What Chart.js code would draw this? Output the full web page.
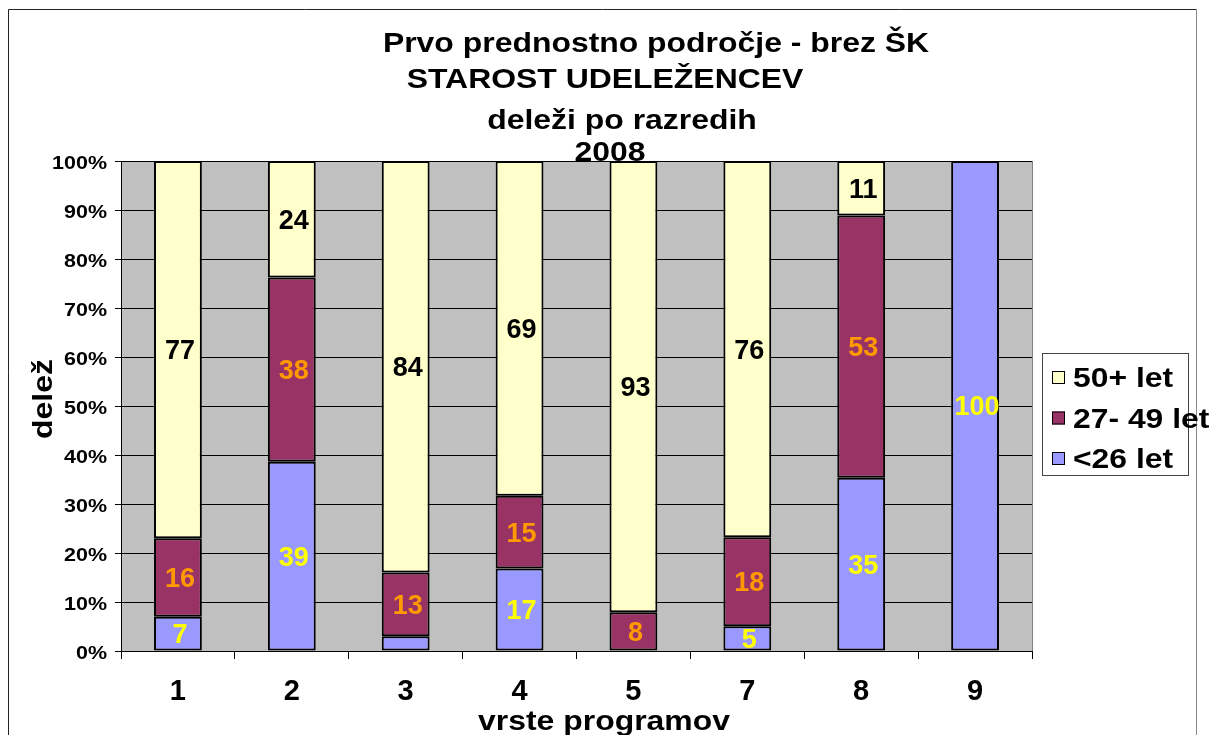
<!DOCTYPE html>
<html>
<head>
<meta charset="utf-8">
<script src="https://cdn.jsdelivr.net/npm/chart.js@4/dist/chart.umd.min.js"></script>
<style>
  body { margin: 0; background: #fff; }
  canvas { display: block; }
</style>
</head>
<body>
<canvas id="ageChart" width="1213" height="735"></canvas>
<script>
// Data (values shown as labels, in %)
const categories = ['1', '2', '3', '4', '5', '7', '8', '9'];
const under26 = [7, 39, 3, 17, 0, 5, 35, 100];
const age27to49 = [16, 38, 13, 15, 8, 18, 53, 0];
const over50 = [77, 24, 84, 69, 93, 76, 11, 0];
const seriesNames = ['<26 let', '27- 49 let', '50+ let'];
const titleLines = ['Prvo prednostno področje - brez ŠK', 'STAROST UDELEŽENCEV', 'deleži po razredih', '2008'];

const FONT = '"Liberation Sans", Arial, sans-serif';
const fillColors = ['#9999FF', '#993366', '#FFFFCC'];
const labelColors = ['#FFFF00', '#FF9900', '#000000'];
const STRETCH = 1.14; // the original text is drawn a bit wider than plain Arial

// 100% stacking: turn each column into shares of its total
const raw = [under26, age27to49, over50];
const totals = categories.map((_, i) => raw.reduce((s, arr) => s + arr[i], 0));
const share = arr => arr.map((v, i) => v / totals[i] * 100);

function wideText(ctx, text, x, y, sx, rot) {
    ctx.save();
    ctx.translate(x, y);
    if (rot) ctx.rotate(rot);
    ctx.scale(sx, 1);
    ctx.fillText(text, 0, 0);
    ctx.restore();
}

const chartDecor = {
    id: 'chartDecor',
    beforeDraw(chart) {
        const { ctx, chartArea: a } = chart;
        ctx.save();
        ctx.fillStyle = '#C0C0C0';
        ctx.fillRect(a.left, a.top, a.right - a.left, a.bottom - a.top);
        ctx.strokeStyle = '#808080';
        ctx.lineWidth = 1;
        ctx.beginPath();
        ctx.moveTo(a.right + 0.5, a.top);
        ctx.lineTo(a.right + 0.5, a.bottom);
        ctx.stroke();
        ctx.restore();
    },
    afterDatasetsDraw(chart) {
        const ctx = chart.ctx;
        ctx.save();
        ctx.font = 'bold 27px ' + FONT;
        ctx.textAlign = 'center';
        ctx.textBaseline = 'middle';
        chart.data.datasets.forEach((ds, di) => {
            const meta = chart.getDatasetMeta(di);
            meta.data.forEach((bar, i) => {
                const v = raw[di][i];
                if (v < 4) return; // too thin to carry a label
                ctx.fillStyle = labelColors[di];
                ctx.fillText(String(v), bar.x + 2, (bar.y + bar.base) / 2 + 2);
            });
        });
        ctx.restore();
    },
    afterDraw(chart) {
        const ctx = chart.ctx;
        const yScale = chart.scales.y;
        ctx.save();
        // outer frame
        ctx.strokeStyle = '#222';
        ctx.lineWidth = 1;
        ctx.beginPath();
        ctx.moveTo(8.5, 740);
        ctx.lineTo(8.5, 9.5);
        ctx.lineTo(1196.5, 9.5);
        ctx.stroke();
        ctx.strokeStyle = '#888';
        ctx.beginPath();
        ctx.moveTo(1196.5, 9.5);
        ctx.lineTo(1196.5, 740);
        ctx.stroke();

        // y tick labels
        ctx.fillStyle = '#000';
        ctx.textAlign = 'right';
        ctx.textBaseline = 'alphabetic';
        ctx.font = 'bold 18.5px ' + FONT;
        yScale.ticks.forEach(t => {
            wideText(ctx, t.value + '%', 107, yScale.getPixelForValue(t.value) + 8, 1.16);
        });

        // title
        ctx.textAlign = 'center';
        ctx.font = 'bold 28px ' + FONT;
        const titlePos = [[656, 52], [605, 88], [622, 129], [610, 161]];
        titleLines.forEach((t, i) => wideText(ctx, t, titlePos[i][0], titlePos[i][1], STRETCH));

        // axis titles
        wideText(ctx, 'vrste programov', 604, 730, STRETCH);
        wideText(ctx, 'delež', 52, 399, STRETCH, -Math.PI / 2);

        // legend
        ctx.strokeStyle = '#444';
        ctx.strokeRect(1042.5, 353.5, 146, 122);
        ctx.textAlign = 'left';
        ctx.font = 'bold 27px ' + FONT;
        for (let k = 0; k < 3; k++) {
            const di = 2 - k;
            const base = 387 + k * 40.5;
            ctx.fillStyle = fillColors[di];
            ctx.fillRect(1052, base - 16, 13, 13);
            ctx.strokeStyle = '#000';
            ctx.strokeRect(1052.5, base - 15.5, 12, 12);
            ctx.fillStyle = '#000';
            wideText(ctx, seriesNames[di], 1073, base, 1.18);
        }
        ctx.restore();
    }
};

new Chart(document.getElementById('ageChart').getContext('2d'), {
    type: 'bar',
    data: {
        labels: categories,
        datasets: raw.map((arr, i) => ({
            label: seriesNames[i],
            data: share(arr),
            backgroundColor: fillColors[i],
            borderColor: '#000',
            borderWidth: 2,
            borderSkipped: false,
            barPercentage: 0.42,
            categoryPercentage: 1
        }))
    },
    options: {
        responsive: false,
        animation: false,
        layout: { padding: { top: 161, right: 181, left: 0, bottom: 0 } },
        plugins: {
            legend: { display: false },
            title: { display: false },
            tooltip: { enabled: false }
        },
        scales: {
            x: {
                stacked: true,
                afterFit: s => { s.height = 84; },
                grid: {
                    drawOnChartArea: false,
                    drawTicks: true,
                    tickLength: 8,
                    color: '#000'
                },
                border: { color: '#000', width: 1 },
                ticks: {
                    color: '#000',
                    padding: 16,
                    font: { family: FONT, size: 29, weight: 'bold' }
                }
            },
            y: {
                stacked: true,
                min: 0,
                max: 100,
                afterFit: s => { s.width = 121; },
                grid: {
                    color: '#000',
                    tickLength: 6,
                    lineWidth: 1
                },
                border: { color: '#000', width: 1 },
                ticks: {
                    display: false,
                    stepSize: 10
                }
            }
        }
    },
    plugins: [chartDecor]
});
</script>
</body>
</html>
